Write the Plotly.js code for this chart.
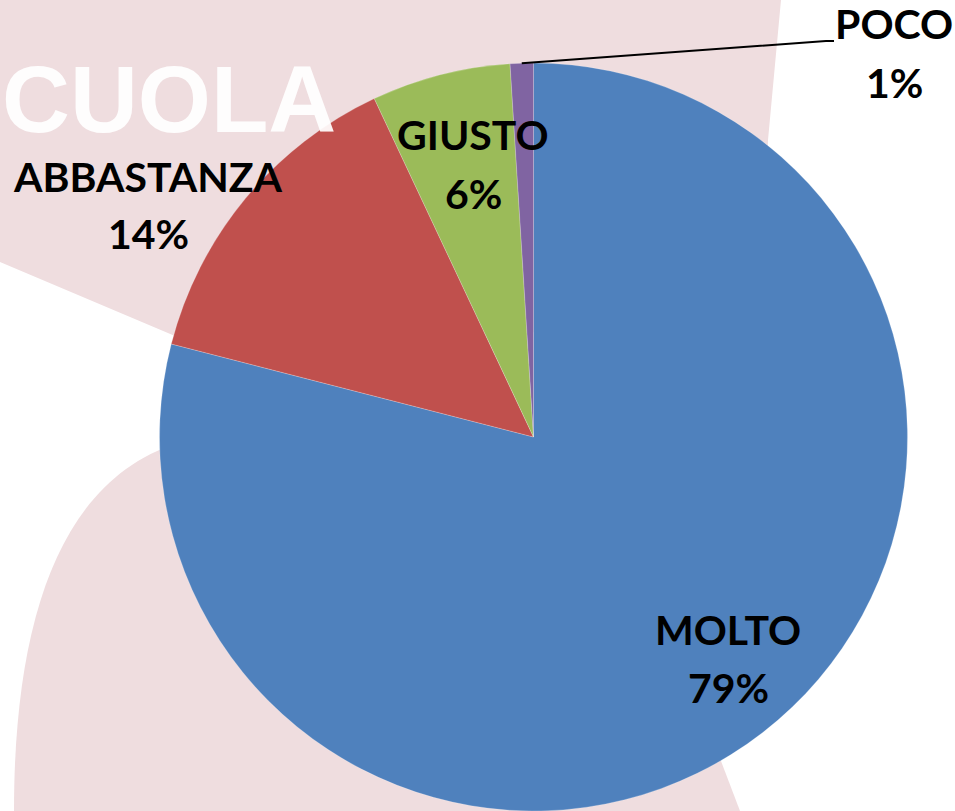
<!DOCTYPE html>
<html><head><meta charset="utf-8">
<script src="https://cdn.plot.ly/plotly-3.0.1.min.js"></script>
<style>html,body{margin:0;padding:0;background:#fff;overflow:hidden}</style>
</head><body><div id="chart" style="width:955px;height:811px"></div>
<script>
// ---- data ----
const categories = ['MOLTO', 'ABBASTANZA', 'GIUSTO', 'POCO'];
const values = [79, 14, 6, 1];
const sliceColors = ['#4F81BD', '#C0504D', '#9BBB59', '#8064A2'];

// ---- layout helpers ----
const W = 955, H = 811;
const px = (x) => x / W;
const py = (y) => 1 - y / H;
const domain = {x: [0.1670, 0.9503], y: [0, 0.9223]};

// label placement (pixel centre of the name line)
const labelPos = [[728, 629], [148, 176], [473, 135], [894, 24]];
const lineGap = 58;
const labelFont = {family: 'Lato, "Open Sans", sans-serif', size: 41, color: '#000', weight: 'bold'};

const total = values.reduce((a, b) => a + b, 0);
const annotations = [];
// watermark text (drawn first so labels stay on top)
annotations.push({xref: 'paper', yref: 'paper', x: px(0), y: py(99), text: '<b>CUOLA</b>', showarrow: false,
  xanchor: 'left', yanchor: 'middle',
  font: {family: '"Liberation Sans", sans-serif', size: 94, color: 'rgba(255,255,255,0.93)'}});
categories.forEach((c, i) => {
  const pct = Math.round(values[i] / total * 100) + '%';
  const [lx, ly] = labelPos[i];
  annotations.push({xref: 'paper', yref: 'paper', x: px(lx), y: py(ly), text: '<b>' + c + '</b>',
    showarrow: false, xanchor: 'center', yanchor: 'middle', font: labelFont});
  annotations.push({xref: 'paper', yref: 'paper', x: px(lx), y: py(ly + lineGap), text: '<b>' + pct + '</b>',
    showarrow: false, xanchor: 'center', yanchor: 'middle', font: labelFont});
});

// leader line for the smallest slice, start point computed from the pie geometry
const cx = (domain.x[0] + domain.x[1]) / 2 * W;
const cy = H - (domain.y[0] + domain.y[1]) / 2 * H;
const R = Math.min((domain.x[1] - domain.x[0]) * W, (domain.y[1] - domain.y[0]) * H) / 2;
let cum = 0; for (let i = 0; i < 3; i++) cum += values[i];
const theta = (cum + values[3] / 2) / total * 2 * Math.PI;
const sx = cx + R * Math.sin(theta), sy = cy - R * Math.cos(theta);

const pink = 'rgb(239,221,223)';
const shapes = [
  {type: 'path', xref: 'paper', yref: 'paper', layer: 'below', line: {width: 0}, fillcolor: pink,
    path: `M ${px(0)} ${py(0)} L ${px(781)} ${py(0)} L ${px(768)} ${py(140)} L ${px(764)} ${py(330)} L ${px(175)} ${py(336)} L ${px(0)} ${py(262)} Z`},
  {type: 'path', xref: 'paper', yref: 'paper', layer: 'below', line: {width: 0}, fillcolor: pink,
    path: `M ${px(14)} ${py(811)} C ${px(14)} ${py(620)}, ${px(60)} ${py(480)}, ${px(178)} ${py(443)} L ${px(600)} ${py(443)} L ${px(740)} ${py(811)} Z`},
  {type: 'path', xref: 'paper', yref: 'paper', layer: 'above', line: {width: 2, color: '#000'},
    path: `M ${px(sx)} ${py(sy)} L ${px(826)} ${py(41)} L ${px(834)} ${py(41)}`}
];

const trace = {
  type: 'pie', labels: categories, values: values, sort: false, direction: 'clockwise', rotation: 0,
  marker: {colors: sliceColors, line: {color: 'rgba(255,255,255,0.35)', width: 0.6}},
  textinfo: 'none', hoverinfo: 'skip', domain: domain, showlegend: false
};

Plotly.newPlot('chart', [trace], {
  width: W, height: H, margin: {l: 0, r: 0, t: 0, b: 0},
  paper_bgcolor: '#ffffff', plot_bgcolor: '#ffffff', showlegend: false,
  annotations: annotations, shapes: shapes
}, {staticPlot: true});
</script></body></html>
